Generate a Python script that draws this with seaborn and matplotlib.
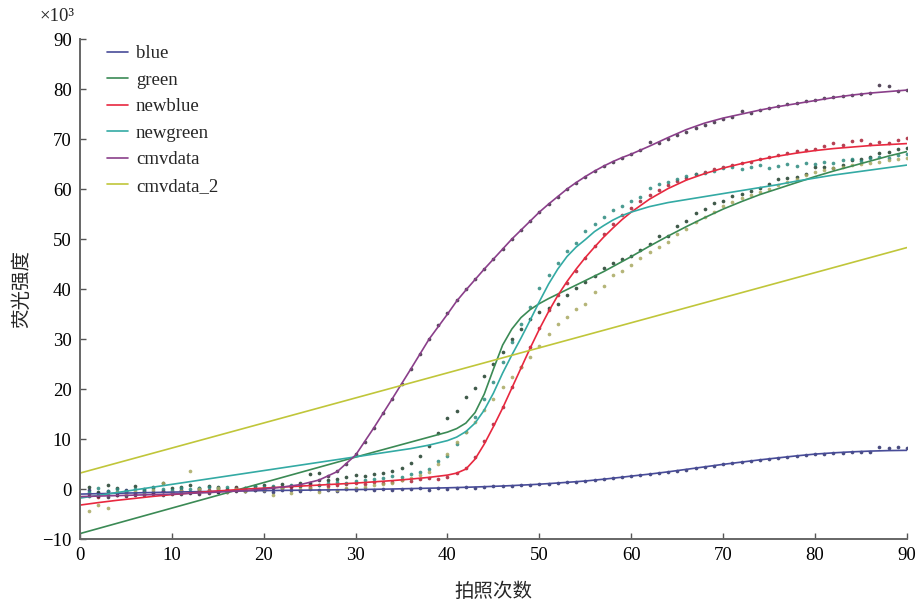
import matplotlib
matplotlib.use('Agg')
import matplotlib.pyplot as plt
import seaborn as sns

# fitted curves, y in units of 10^3
fit_x = [0, 2, 4, 6, 8, 10, 12, 14, 16, 18, 20, 22, 24, 26, 28, 30, 32, 34, 36, 38,
         40, 41, 42, 43, 44, 45, 46, 47, 48, 49, 50, 51, 52, 53, 54, 55, 56, 57, 58, 59,
         60, 62, 64, 66, 68, 70, 72, 74, 76, 78, 80, 82, 84, 86, 88, 90]

blue_fit = [-1.0, -0.92, -0.84, -0.76, -0.68, -0.6, -0.54, -0.48, -0.42, -0.36,
            -0.3, -0.26, -0.22, -0.18, -0.14, -0.1, -0.04, 0.02, 0.1, 0.18,
            0.26, 0.31, 0.36, 0.42, 0.48, 0.55, 0.62, 0.7, 0.79, 0.88,
            0.98, 1.1, 1.22, 1.35, 1.48, 1.62, 1.8, 1.98, 2.18, 2.38,
            2.6, 3.0, 3.45, 3.95, 4.45, 4.95, 5.4, 5.85, 6.25, 6.65,
            7.0, 7.25, 7.45, 7.6, 7.7, 7.75]
green_fit = [-8.9, -7.88, -6.86, -5.84, -4.82, -3.8, -2.78, -1.76, -0.74, 0.28,
             1.3, 2.32, 3.34, 4.36, 5.38, 6.4, 7.4, 8.4, 9.4, 10.4,
             11.4, 12.1, 13.2, 15.3, 19.0, 24.0, 28.8, 32.0, 34.3, 35.9,
             37.1, 38.1, 39.0, 39.9, 40.8, 41.7, 42.6, 43.5, 44.5, 45.5,
             46.5, 48.6, 50.6, 52.5, 54.3, 56.0, 57.5, 58.9, 60.1, 61.3,
             62.5, 63.6, 64.6, 65.6, 66.6, 67.5]
newblue_fit = [-3.2, -2.7, -2.25, -1.85, -1.45, -1.1, -0.8, -0.5, -0.25, 0.0,
               0.2, 0.4, 0.6, 0.8, 1.0, 1.2, 1.45, 1.7, 2.0, 2.35,
               2.8, 3.2, 4.0, 6.0, 9.0, 12.5, 16.2, 20.2, 24.2, 28.2,
               32.0, 35.5, 38.7, 41.5, 44.0, 46.3, 48.4, 50.4, 52.2, 53.9,
               55.4, 58.0, 60.1, 61.8, 63.1, 64.2, 65.1, 65.9, 66.6, 67.2,
               67.7, 68.1, 68.4, 68.7, 68.9, 69.1]
newgreen_fit = [-1.8, -1.25, -0.7, -0.15, 0.4, 0.95, 1.5, 2.05, 2.6, 3.15,
                3.7, 4.25, 4.8, 5.35, 5.9, 6.45, 7.0, 7.55, 8.1, 8.8,
                9.7, 10.4, 11.5, 13.2, 15.8, 19.2, 23.2, 26.8, 30.2, 33.8,
                37.5, 41.0, 44.0, 46.5, 48.4, 49.9, 51.5, 52.7, 53.8, 54.7,
                55.4, 56.5, 57.3, 57.9, 58.5, 59.1, 59.7, 60.3, 60.9, 61.6,
                62.2, 62.8, 63.3, 63.8, 64.3, 64.8]
cmv_fit = [-1.5, -1.4, -1.3, -1.2, -1.1, -1.0, -0.85, -0.7, -0.5, -0.3,
           0.0, 0.4, 0.9, 1.8, 3.5, 6.8, 12.3, 18.1, 24.0, 30.0,
           35.0, 37.6, 39.8, 41.9, 44.0, 46.0, 48.0, 50.0, 51.8, 53.6,
           55.4, 57.0, 58.5, 60.0, 61.3, 62.5, 63.6, 64.6, 65.5, 66.3,
           67.0, 68.6, 70.3, 71.9, 73.2, 74.2, 75.0, 75.8, 76.5, 77.1,
           77.7, 78.3, 78.8, 79.2, 79.5, 79.8]
cmv2_fit_x = [0, 90]
cmv2_fit = [3.2, 48.3]

# measured points, one per shot
shots = list(range(1, 91))
blue_pts = [-0.2, -0.8, -0.3, -0.6, -0.2, -0.7, -0.4, -0.5, -0.3, -0.6,
            -0.1, -0.5, -0.2, -0.4, -0.6, -0.3, -0.2, -0.4, -0.1, -0.3,
            -0.5, -0.2, -0.1, -0.3, 0.0, -0.2, -0.1, -0.3, 0.0, -0.1,
            0.0, -0.2, 0.1, -0.1, 0.1, 0.0, 0.2, -0.1, 0.2, 0.1,
            0.3, 0.4, 0.3, 0.5, 0.6, 0.6, 0.7, 0.8, 0.9, 1.0,
            1.1, 1.2, 1.4, 1.5, 1.7, 1.9, 2.1, 2.2, 2.4, 2.6,
            2.8, 3.0, 3.2, 3.5, 3.7, 3.9, 4.2, 4.4, 4.7, 5.0,
            5.2, 5.4, 5.6, 5.8, 6.0, 6.2, 6.4, 6.6, 6.8, 7.0,
            7.1, 7.2, 7.3, 7.4, 7.5, 7.5, 8.4, 8.2, 8.5, 8.3]
green_pts = [0.5, -0.5, 0.8, 0.2, -0.3, 0.6, 0.1, 0.4, 1.2, 0.3,
             0.5, 0.9, 0.2, 0.6, 0.4, 0.1, 0.5, 0.3, 0.6, 0.8,
             0.4, 1.0, 0.7, 1.2, 3.0, 3.2, 1.8, 2.0, 2.5, 2.8,
             2.6, 3.0, 3.3, 3.7, 4.3, 5.3, 6.7, 8.7, 11.2, 14.2,
             15.6, 18.5, 20.3, 22.6, 25.0, 27.5, 30.0, 32.0, 34.0, 35.5,
             36.2, 37.1, 38.8, 40.2, 41.5, 42.7, 44.2, 45.2, 46.0, 46.6,
             47.9, 49.0, 50.7, 50.7, 52.7, 53.7, 55.2, 56.0, 57.3, 57.6,
             58.6, 59.1, 59.6, 60.2, 61.0, 62.0, 62.2, 62.5, 63.0, 64.5,
             64.5, 64.2, 64.8, 65.8, 66.0, 66.5, 67.2, 67.5, 68.0, 68.3]
newblue_pts = [-1.0, -1.5, -0.8, -1.2, -0.6, -1.0, -0.5, -0.8, -0.4, -0.6,
               -0.3, -0.5, 0.0, -0.2, 0.1, -0.1, 0.2, 0.0, 0.3, 0.1,
               0.4, 0.2, 0.5, 0.6, 0.4, 0.8, 0.6, 0.9, 1.0, 1.2,
               1.0, 1.4, 1.2, 1.5, 1.8, 1.6, 2.0, 2.2, 2.1, 2.4,
               3.2, 4.3, 6.5, 9.6, 13.0, 16.5, 20.5, 24.5, 28.5, 32.3,
               35.8, 38.8, 41.3, 43.7, 46.3, 48.6, 51.0, 53.0, 54.8, 56.2,
               57.6, 58.8, 59.9, 60.9, 61.6, 62.3, 63.0, 63.5, 64.0, 64.4,
               64.8, 65.3, 65.5, 66.0, 66.5, 66.9, 67.2, 67.6, 67.9, 68.1,
               68.6, 69.2, 68.8, 69.6, 69.9, 69.1, 69.5, 69.3, 69.8, 70.2]
newgreen_pts = [-0.5, 0.2, -0.3, 0.0, -0.4, 0.1, -0.2, 0.3, 0.0, -0.1,
                0.2, 0.0, 0.3, 0.5, 0.2, 0.4, 0.1, 0.3, 0.6, 0.5,
                0.7, 0.4, 0.8, 0.6, 1.0, 0.9, 1.2, 1.4, 1.3, 1.6,
                1.8, 2.0, 2.3, 2.6, 2.4, 3.0, 3.5, 4.0, 5.7, 6.7,
                9.1, 11.5, 14.5, 18.0, 21.5, 25.5, 29.5, 33.0, 36.5, 40.2,
                42.9, 45.2, 47.7, 49.3, 51.7, 53.0, 54.4, 55.9, 56.7, 57.7,
                58.4, 60.2, 61.1, 61.5, 62.0, 62.6, 63.0, 63.3, 63.6, 64.2,
                64.5, 64.0, 64.4, 64.8, 64.2, 64.6, 65.0, 64.6, 65.3, 65.0,
                65.5, 65.2, 65.8, 66.0, 65.6, 66.3, 66.5, 66.2, 66.8, 67.0]
cmv_pts = [-1.4, -1.3, -1.5, -1.2, -1.3, -1.1, -1.2, -1.0, -1.1, -0.9,
           -1.0, -0.8, -0.9, -0.7, -0.6, -0.5, -0.4, -0.3, -0.1, 0.0,
           0.2, 0.4, 0.6, 0.9, 1.3, 1.9, 2.6, 3.6, 5.0, 7.0,
           9.5, 12.3, 15.2, 18.1, 21.0, 24.0, 27.0, 30.0, 32.8, 35.3,
           37.8, 40.0, 42.0, 44.1, 46.1, 48.1, 50.0, 51.9, 53.7, 55.4,
           57.0, 58.5, 60.0, 61.3, 62.5, 63.6, 64.6, 65.5, 66.3, 67.0,
           67.8, 69.5, 69.2, 70.0, 70.9, 71.5, 72.2, 72.8, 73.4, 74.0,
           74.5, 75.6, 75.3, 75.8, 76.2, 76.6, 77.0, 77.3, 77.6, 77.9,
           78.2, 78.4, 78.6, 78.8, 79.0, 79.2, 80.8, 80.7, 79.7, 79.9]
cmv2_pts = [-4.3, -3.1, -3.8, -0.5, -1.0, -0.3, -0.8, -0.2, 1.3, -0.5,
            -0.4, 3.7, 0.0, -0.3, 0.2, -0.6, 0.1, -0.4, 0.0, -0.2,
            -1.2, 0.3, -0.8, 0.0, 0.2, -0.5, 0.1, -0.1, 0.3, 0.2,
            0.5, 0.8, 1.0, 1.3, 1.8, 2.2, 2.8, 3.5, 5.0, 7.0,
            9.4, 11.5, 13.5, 15.8, 18.0, 20.5, 22.5, 24.5, 26.4, 28.7,
            31.0, 33.0, 34.5, 36.1, 37.1, 39.5, 40.6, 42.8, 43.6, 44.8,
            46.2, 47.5, 48.5, 49.5, 51.0, 52.0, 53.5, 54.5, 55.5, 56.7,
            57.5, 58.2, 58.8, 59.4, 60.0, 60.8, 61.5, 62.0, 62.8, 63.5,
            63.8, 64.2, 64.5, 64.8, 65.0, 65.3, 65.5, 65.8, 66.0, 66.3]

sns.set_style('ticks')
plt.rcParams['font.family'] = ['Liberation Serif', 'Noto Sans CJK SC', 'DejaVu Sans']

fig = plt.figure(figsize=(9.17, 6.01), dpi=100)
ax = fig.add_axes([0.0872, 0.103, 0.9018, 0.832])

series = [
    ('blue', fit_x, blue_fit, blue_pts, '#484c98', '#2a2d6a'),
    ('green', fit_x, green_fit, green_pts, '#3b8a55', '#1e3d2a'),
    ('newblue', fit_x, newblue_fit, newblue_pts, '#e8283f', '#a82035'),
    ('newgreen', fit_x, newgreen_fit, newgreen_pts, '#33aaa4', '#2b8a7e'),
    ('cmvdata', fit_x, cmv_fit, cmv_pts, '#8a3f8a', '#3a2a40'),
    ('cmvdata_2', cmv2_fit_x, cmv2_fit, cmv2_pts, '#c0c63a', '#a8a860'),
]

for name, fx, fy, pts, lc, dc in series:
    sns.scatterplot(x=shots, y=pts, ax=ax, color=dc, s=7, linewidth=0,
                    alpha=0.85, legend=False)
for name, fx, fy, pts, lc, dc in series:
    sns.lineplot(x=fx, y=fy, ax=ax, color=lc, linewidth=1.2, label=name)

ax.set_xlim(0, 90)
ax.set_ylim(-10, 90)
ax.set_xticks(range(0, 91, 10))
ax.set_yticks(range(-10, 91, 10))
ax.tick_params(direction='in', length=4, width=1, colors='#555555',
               labelcolor='black', labelsize=13.5, pad=6)
for side in ['top', 'right']:
    ax.spines[side].set_visible(False)
for side in ['left', 'bottom']:
    ax.spines[side].set_color('#666666')
    ax.spines[side].set_linewidth(1.4)

ax.set_xlabel('拍照次数', fontsize=14, labelpad=13)
ax.set_ylabel('荧光强度', fontsize=14, labelpad=8)
fig.text(0.0436, 0.972, '×10³', fontsize=13.5, va='center', ha='left')

ax.legend(loc='upper left', bbox_to_anchor=(0.019, 1.01), frameon=False,
          fontsize=13.5, handlelength=1.15, handletextpad=0.4,
          labelspacing=0.5, borderaxespad=0.2)

fig.savefig('out.png', dpi=100)
